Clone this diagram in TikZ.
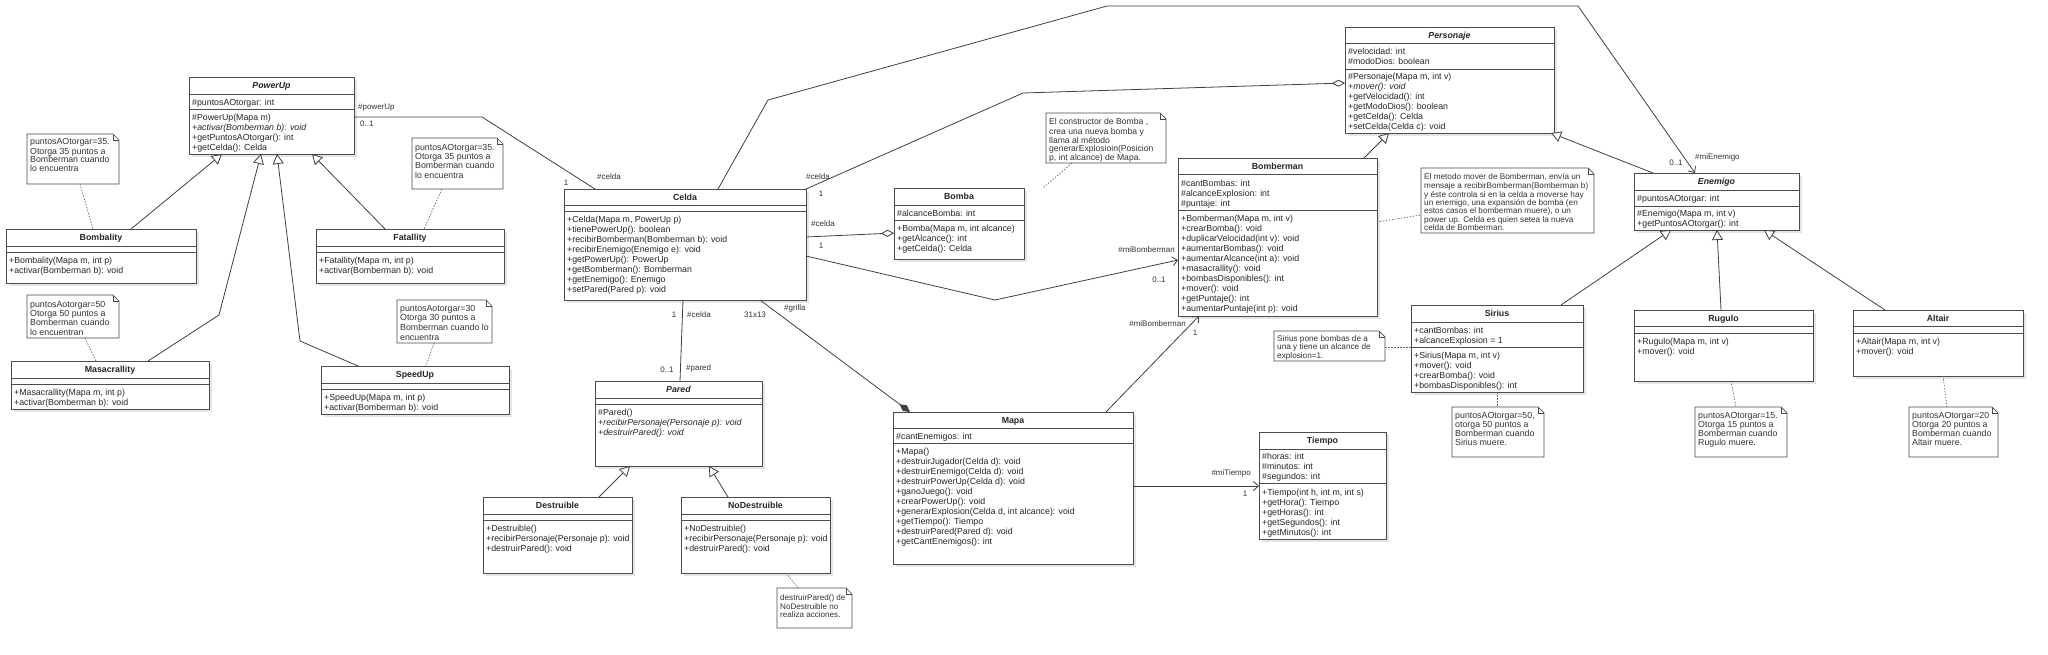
\documentclass[tikz,border=0pt]{standalone}
\usepackage{fontspec}
\setmainfont{Liberation Sans}
\usetikzlibrary{calc,arrows.meta,shadows}

\newcommand\fs{\fontsize{8.8}{10}\selectfont}
\newcommand\fsl{\fontsize{8}{9}\selectfont}

\tikzset{
 clsbox/.style={draw=black!70, line width=0.8pt, fill=white, anchor=north west, inner sep=0pt, outer sep=0pt,
   drop shadow={shadow xshift=2.5pt, shadow yshift=-2.5pt, fill=black, opacity=0.10}},
 clstitle/.style={inner sep=0pt, text height=6.3pt, text depth=0pt, font=\fs\bfseries, text=black!85},
 clstext/.style={anchor=north west, inner sep=0pt, align=left, font=\fs, text=black!85},
 sepline/.style={draw=black!70, line width=0.8pt},
 notebody/.style={anchor=north west, inner sep=0pt, outer sep=0pt, draw=none},
 noteline/.style={draw=black!70, line width=0.7pt},
 notetext/.style={anchor=north west, inner sep=0pt, align=left, text=black!80},
 conn/.style={draw=black!75, line width=0.8pt},
 gen/.style={conn, -{Triangle[open, length=10pt, width=11pt, fill=white]}},
 nav/.style={conn, -{Straight Barb[length=5pt, width=9pt]}},
 agg/.style={conn, -{Diamond[open, length=13pt, width=7pt, fill=white]}},
 comp/.style={conn, -{Diamond[length=13pt, width=7pt]}},
 notelink/.style={draw=black!60, line width=0.7pt, dash pattern=on 1.5pt off 1.5pt},
 lbl/.style={inner sep=0pt, font=\fsl, text=black!80, text height=5.8pt, text depth=0pt},
}

% class box: name, x1, y1, x2, y2, title
\newcommand\cls[6]{%
 \node[clsbox, minimum width={#4-#2}, minimum height={#5-#3}] (#1) at (#2,#3) {};
 \node[clstitle] (#1-t) at ($(#1.north)+(0,8.5)$) {#6};}
% separator: box, offset from top
\newcommand\hsep[2]{\draw[sepline] ($(#1.north west)+(0,#2)$) -- ($(#1.north east)+(0,#2)$);}
% text block: name, box, first line centre offset, content
\newcommand\ctext[4]{\node[clstext] (#1) at ($(#2.north west)+(3,#3-4)$) {\strut#4};}
% note: name, x1, y1, x2, y2
\newcommand\note[5]{%
 \node[notebody, minimum width={#4-#2}, minimum height={#5-#3}] (#1) at (#2,#3) {};
 \draw[noteline, fill=white] (#1.north west) -- ($(#1.north east)+(-6,0)$) -- ($(#1.north east)+(0,6)$) -- (#1.south east) -- (#1.south west) -- cycle;
 \draw[noteline] ($(#1.north east)+(-6,0)$) |- ($(#1.north east)+(0,6)$);}
% note text: note, first centre offset, font size, leading, content
\newcommand\ntext[5]{\node[notetext, font=\fontsize{#3}{#4}\selectfont] (#1-x) at ($(#1.north west)+(3,{#2+3-0.7*#4})$) {\strut#5};}

\begin{document}
\begin{tikzpicture}[x=1pt,y=-1pt]
\useasboundingbox[fill=white] (0,0) rectangle (2048,654);

% ---------------- classes ----------------
\cls{powerup}{189}{77}{354}{154}{\textit{PowerUp}}
\hsep{powerup}{17}\hsep{powerup}{32}
\ctext{powerup-a}{powerup}{25}{\#puntosAOtorgar: int}
\ctext{powerup-m}{powerup}{40}{\#PowerUp(Mapa m)\\\textit{+activar(Bomberman b): void}\\+getPuntosAOtorgar(): int\\+getCelda(): Celda}

\cls{bombality}{6}{229}{196}{283}{Bombality}
\hsep{bombality}{17}\hsep{bombality}{23}
\ctext{bombality-m}{bombality}{31}{+Bombality(Mapa m, int p)\\+activar(Bomberman b): void}

\cls{fatallity}{316}{229}{504}{283}{Fatallity}
\hsep{fatallity}{17}\hsep{fatallity}{23}
\ctext{fatallity-m}{fatallity}{31}{+Fatallity(Mapa m, int p)\\+activar(Bomberman b): void}

\cls{masa}{11}{361}{209}{409}{Masacrallity}
\hsep{masa}{17}\hsep{masa}{23}
\ctext{masa-m}{masa}{31}{+Masacrallity(Mapa m, int p)\\+activar(Bomberman b): void}

\cls{speedup}{321}{366}{509}{414}{SpeedUp}
\hsep{speedup}{17}\hsep{speedup}{23}
\ctext{speedup-m}{speedup}{31}{+SpeedUp(Mapa m, int p)\\+activar(Bomberman b): void}

\cls{celda}{564}{189}{806}{300}{Celda}
\hsep{celda}{16}\hsep{celda}{22}
\ctext{celda-m}{celda}{30}{+Celda(Mapa m, PowerUp p)\\+tienePowerUp(): boolean\\+recibirBomberman(Bomberman b): void\\+recibirEnemigo(Enemigo e): void\\+getPowerUp(): PowerUp\\+getBomberman(): Bomberman\\+getEnemigo(): Enemigo\\+setPared(Pared p): void}

\cls{bomba}{894}{188}{1024}{259}{Bomba}
\hsep{bomba}{17}\hsep{bomba}{32}
\ctext{bomba-a}{bomba}{25}{\#alcanceBomba: int}
\ctext{bomba-m}{bomba}{40}{+Bomba(Mapa m, int alcance)\\+getAlcance(): int\\+getCelda(): Celda}

\cls{bomberman}{1178}{158}{1377}{316}{Bomberman}
\hsep{bomberman}{16}\hsep{bomberman}{52}
\ctext{bomberman-a}{bomberman}{25}{\#cantBombas: int\\\#alcanceExplosion: int\\\#puntaje: int}
\ctext{bomberman-m}{bomberman}{60}{+Bomberman(Mapa m, int v)\\+crearBomba(): void\\+duplicarVelocidad(int v): void\\+aumentarBombas(): void\\+aumentarAlcance(int a): void\\+masacrallity(): void\\+bombasDisponibles(): int\\+mover(): void\\+getPuntaje(): int\\+aumentarPuntaje(int p): void}

\cls{personaje}{1345}{27}{1554}{133}{\textit{Personaje}}
\hsep{personaje}{16}\hsep{personaje}{42}
\ctext{personaje-a}{personaje}{24}{\#velocidad: int\\\#modoDios: boolean}
\ctext{personaje-m}{personaje}{49}{\#Personaje(Mapa m, int v)\\\textit{+mover(): void}\\+getVelocidad(): int\\+getModoDios(): boolean\\+getCelda(): Celda\\+setCelda(Celda c): void}

\cls{enemigo}{1634}{173}{1799}{230}{\textit{Enemigo}}
\hsep{enemigo}{17}\hsep{enemigo}{33}
\ctext{enemigo-a}{enemigo}{25}{\#puntosAOtorgar: int}
\ctext{enemigo-m}{enemigo}{40}{\#Enemigo(Mapa m, int v)\\+getPuntosAOtorgar(): int}

\cls{sirius}{1411}{305}{1583}{392}{Sirius}
\hsep{sirius}{17}\hsep{sirius}{42}
\ctext{sirius-a}{sirius}{25}{+cantBombas: int\\+alcanceExplosion = 1}
\ctext{sirius-m}{sirius}{50}{+Sirius(Mapa m, int v)\\+mover(): void\\+crearBomba(): void\\+bombasDisponibles(): int}

\cls{rugulo}{1634}{310}{1813}{381}{Rugulo}
\hsep{rugulo}{16}\hsep{rugulo}{23}
\ctext{rugulo-m}{rugulo}{31}{+Rugulo(Mapa m, int v)\\+mover(): void}

\cls{altair}{1853}{310}{2023}{376}{Altair}
\hsep{altair}{16}\hsep{altair}{23}
\ctext{altair-m}{altair}{31}{+Altair(Mapa m, int v)\\+mover(): void}

\cls{mapa}{893}{412}{1133}{564}{Mapa}
\hsep{mapa}{16}\hsep{mapa}{31}
\ctext{mapa-a}{mapa}{24}{\#cantEnemigos: int}
\ctext{mapa-m}{mapa}{39}{+Mapa()\\+destruirJugador(Celda d): void\\+destruirEnemigo(Celda d): void\\+destruirPowerUp(Celda d): void\\+ganoJuego(): void\\+crearPowerUp(): void\\+generarExplosion(Celda d, int alcance): void\\+getTiempo(): Tiempo\\+destruirPared(Pared d): void\\+getCantEnemigos(): int}

\cls{tiempo}{1259}{432}{1386}{539}{Tiempo}
\hsep{tiempo}{17}\hsep{tiempo}{51}
\ctext{tiempo-a}{tiempo}{24}{\#horas: int\\\#minutos: int\\\#segundos: int}
\ctext{tiempo-m}{tiempo}{60}{+Tiempo(int h, int m, int s)\\+getHora(): Tiempo\\+getHoras(): int\\+getSegundos(): int\\+getMinutos(): int}

\cls{pared}{595}{381}{762}{466}{\textit{Pared}}
\hsep{pared}{17}\hsep{pared}{23}
\ctext{pared-m}{pared}{31}{\#Pared()\\\textit{+recibirPersonaje(Personaje p): void}\\\textit{+destruirPared(): void}}

\cls{destruible}{483}{497}{632}{573}{Destruible}
\hsep{destruible}{17}\hsep{destruible}{23}
\ctext{destruible-m}{destruible}{31}{+Destruible()\\+recibirPersonaje(Personaje p): void\\+destruirPared(): void}

\cls{nodestruible}{681}{497}{830}{573}{NoDestruible}
\hsep{nodestruible}{17}\hsep{nodestruible}{23}
\ctext{nodestruible-m}{nodestruible}{31}{+NoDestruible()\\+recibirPersonaje(Personaje p): void\\+destruirPared(): void}

% ---------------- notes ----------------
\note{n1}{27}{134}{119}{184}
\ntext{n1}{7}{8.8}{8.7}{puntosAOtorgar=35.\\Otorga 35 puntos a\\Bomberman cuando\\lo encuentra}
\note{n2}{412}{138}{503}{189}
\ntext{n2}{9}{8.8}{9.3}{puntosAOtorgar=35.\\Otorga 35 puntos a\\Bomberman cuando\\lo encuentra}
\note{n3}{27}{295}{119}{338}
\ntext{n3}{9}{8.8}{9.3}{puntosAotorgar=50\\Otorga 50 puntos a\\Bomberman cuando\\lo encuentran}
\note{n4}{397}{300}{492}{343}
\ntext{n4}{8}{8.8}{9.7}{puntosAotorgar=30\\Otorga 30 puntos a\\Bomberman cuando lo\\encuentra}
\note{n5}{1046}{113}{1166}{163}
\ntext{n5}{8}{8.6}{7.8}{El constructor de Bomba ,\\crea una nueva bomba y\\llama al método\\generarExplosioin(Posicion\\p, int alcance) de Mapa.}
\note{n6}{1421}{168}{1594}{233}
\ntext{n6}{8}{8.2}{8.3}{El metodo mover de Bomberman, envía un\\mensaje a recibirBomberman(Bomberman b)\\y éste controla si en la celda a moverse hay\\un enemigo, una expansión de bomba (en\\estos casos el bomberman muere), o un\\power up. Celda es quien setea la nueva\\celda de Bomberman.}
\note{n7}{1274}{331}{1385}{361}
\ntext{n7}{7}{8.2}{8.5}{Sirius pone bombas de a\\una y tiene un alcance de\\explosion=1.}
\note{n8}{1452}{407}{1544}{457}
\ntext{n8}{8}{8.8}{9}{puntosAOtorgar=50,\\otorga 50 puntos a\\Bomberman cuando\\Sirius muere.}
\note{n9}{1695}{407}{1787}{457}
\ntext{n9}{8}{8.8}{9}{puntosAOtorgar=15.\\Otorga 15 puntos a\\Bomberman cuando\\Rugulo muere.}
\note{n10}{1909}{407}{1998}{457}
\ntext{n10}{8}{8.8}{9}{puntosAOtorgar=20\\Otorga 20 puntos a\\Bomberman cuando\\Altair muere.}
\note{n11}{777}{588}{852}{628}
\ntext{n11}{9}{8.1}{8}{destruirPared() de\\NoDestruible no\\realiza acciones.}

% ---------------- generalizations ----------------
\draw[gen] ($(bombality.north west)+(125,0)$) -- ($(powerup.south west)+(33,0)$);
\draw[gen] ($(fatallity.north west)+(69,0)$) -- ($(powerup.south west)+(123,0)$);
\draw[gen] ($(masa.north west)+(137,0)$) -- (219,315) -- ($(powerup.south west)+(72,0)$);
\draw[gen] ($(speedup.north west)+(37,0)$) -- (300,341) -- ($(powerup.south west)+(88,0)$);
\draw[gen] ($(bomberman.north west)+(186,0)$) -- ($(personaje.south west)+(44,0)$);
\draw[gen] ($(enemigo.north west)+(19,0)$) -- ($(personaje.south east)+(-3,0)$);
\draw[gen] ($(sirius.north west)+(150,0)$) -- ($(enemigo.south west)+(37,0)$);
\draw[gen] ($(rugulo.north west)+(87,0)$) -- ($(enemigo.south west)+(83,0)$);
\draw[gen] ($(altair.north west)+(32,0)$) -- ($(enemigo.south west)+(130,0)$);
\draw[gen] ($(destruible.north west)+(116,0)$) -- ($(pared.south west)+(35,0)$);
\draw[gen] ($(nodestruible.north west)+(47,0)$) -- ($(pared.south west)+(114,0)$);

% ---------------- associations ----------------
\draw[conn] ($(powerup.north east)+(0,40)$) -- (482,117) -- ($(celda.north west)+(31,0)$);
\draw[nav] ($(celda.north west)+(154,0)$) -- (768,100) -- (1107,6) -- (1578,6) -- ($(enemigo.north west)+(61,0)$);
\draw[agg] (celda.north east) -- (1023,93) -- ($(personaje.north west)+(0,56)$);
\draw[agg] ($(celda.north east)+(0,48)$) -- ($(bomba.north west)+(0,45)$);
\draw[nav] ($(celda.north east)+(0,67)$) -- (995,300) -- ($(bomberman.north west)+(0,102)$);
\draw[conn] ($(celda.south west)+(119,0)$) -- ($(pared.north west)+(85,0)$);
\draw[comp] ($(celda.south west)+(196,0)$) -- ($(mapa.north west)+(17,0)$);
\draw[nav] ($(mapa.north west)+(213,0)$) -- ($(bomberman.south west)+(21,0)$);
\draw[nav] ($(mapa.north east)+(0,74)$) -- ($(tiempo.north west)+(0,54)$);

% ---------------- note links ----------------
\draw[notelink] ($(n1.south west)+(53,0)$) -- ($(bombality.north west)+(87,0)$);
\draw[notelink] ($(n2.south west)+(30,0)$) -- ($(fatallity.north west)+(108,0)$);
\draw[notelink] ($(n3.south west)+(58,0)$) -- ($(masa.north west)+(85,0)$);
\draw[notelink] ($(n4.south west)+(37,0)$) -- ($(speedup.north west)+(105,0)$);
\draw[notelink] ($(n5.south west)+(26,0)$) -- ($(bomba.north west)+(149,0)$);
\draw[notelink] ($(bomberman.north east)+(0,64)$) -- ($(n6.north west)+(0,47)$);
\draw[notelink] ($(n7.north east)+(0,16)$) -- ($(sirius.north west)+(0,42)$);
\draw[notelink] ($(sirius.south west)+(86,0)$) -- ($(n8.north west)+(45,0)$);
\draw[notelink] ($(rugulo.south west)+(97,0)$) -- ($(n9.north west)+(41,0)$);
\draw[notelink] ($(altair.south west)+(90,0)$) -- ($(n10.north west)+(38,0)$);
\draw[notelink] ($(nodestruible.south west)+(105,0)$) -- ($(n11.north west)+(21,0)$);

% ---------------- labels ----------------
\node[lbl, anchor=west] (l1) at (358,107) {\#powerUp};
\node[lbl, anchor=west] (l2) at (360,124) {0..1};
\node[lbl] (l3) at (566,183) {1};
\node[lbl, anchor=west] (l4) at (597,177) {\#celda};
\node[lbl] (l5) at (1676,163) {0..1};
\node[lbl, anchor=west] (l6) at (1695,157) {\#miEnemigo};
\node[lbl, anchor=west] (l7) at (806,177) {\#celda};
\node[lbl] (l8) at (821,194) {1};
\node[lbl, anchor=west] (l9) at (811,224) {\#celda};
\node[lbl] (l10) at (821,246) {1};
\node[lbl, anchor=east] (l11) at (1175,250) {\#miBomberman};
\node[lbl] (l12) at (1159,280) {0..1};
\node[lbl] (l13) at (674,315) {1};
\node[lbl, anchor=west] (l14) at (687,315) {\#celda};
\node[lbl] (l15) at (667,370) {0..1};
\node[lbl, anchor=west] (l16) at (686,368) {\#pared};
\node[lbl, anchor=west] (l17) at (784,308) {\#grilla};
\node[lbl] (l18) at (755,315) {31x13};
\node[lbl, anchor=east] (l19) at (1186,324) {\#miBomberman};
\node[lbl] (l20) at (1195,333) {1};
\node[lbl, anchor=east] (l21) at (1251,473) {\#miTiempo};
\node[lbl] (l22) at (1245,494) {1};
\end{tikzpicture}
\end{document}
